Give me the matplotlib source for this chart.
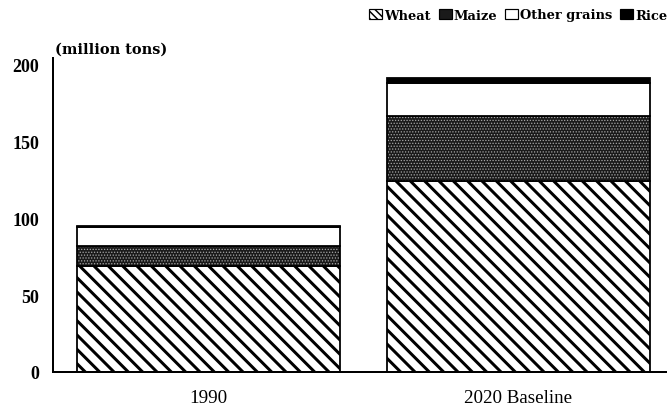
import matplotlib.pyplot as plt
from matplotlib.patches import Patch
import numpy as np

# grain production, million tons
years = ['1990', '2020 Baseline']
wheat = [69, 124]
maize = [13, 42]
other_grains = [12, 22]
rice = [0.6, 3]

DPI = 86
PT = 72 / DPI  # pixels -> points

plt.rcParams['font.family'] = ['Liberation Serif', 'DejaVu Serif']
plt.rcParams['hatch.linewidth'] = 3.0 * PT

fig = plt.figure(figsize=(667 / DPI, 410 / DPI), dpi=DPI)
ax = fig.add_axes([53 / 667, 37 / 410, 614 / 667, 314 / 410])

x = np.arange(len(years))
w = 0.85
wheat = np.array(wheat)
maize = np.array(maize)
other_grains = np.array(other_grains)
rice = np.array(rice)

ax.bar(x, wheat, w, color='white', edgecolor='black', hatch='\\\\', linewidth=1.5)
plt.rcParams['hatch.linewidth'] = 0.8 * PT
ax.bar(x, maize, w, bottom=wheat, color='#1a1a1a', edgecolor='#a8a8a8', hatch='.....', linewidth=0)
ax.bar(x, maize, w, bottom=wheat, fill=False, edgecolor='black', linewidth=1.5)
ax.bar(x, other_grains, w, bottom=wheat + maize, color='white', edgecolor='black', linewidth=1.5)
ax.bar(x, rice, w, bottom=wheat + maize + other_grains, color='black', edgecolor='black', linewidth=1.5)

ax.set_xlim(-0.502, 1.48)
ax.set_ylim(0, 204)
ax.set_yticks([0, 50, 100, 150, 200])
ax.set_xticks(x)
ax.set_xticklabels(years, fontsize=19 * PT)
for lab in ax.get_yticklabels():
    lab.set_fontsize(18 * PT)
    lab.set_fontweight('bold')
ax.tick_params(axis='both', length=0)
ax.tick_params(axis='y', pad=14 * PT)
ax.tick_params(axis='x', pad=17 * PT)
for s in ['top', 'right']:
    ax.spines[s].set_visible(False)
for s in ['left', 'bottom']:
    ax.spines[s].set_linewidth(2 * PT)

fig.text(55 / 667, 1 - 50 / 410, '(million tons)', fontsize=14.5 * PT, fontweight='bold',
         va='center', family='DejaVu Serif')

plt.rcParams['hatch.linewidth'] = 1.5 * PT
handles = [
    Patch(facecolor='white', edgecolor='black', hatch='\\\\\\\\', label='Wheat'),
    Patch(facecolor='#1a1a1a', edgecolor='black', label='Maize'),
    Patch(facecolor='white', edgecolor='black', label='Other grains'),
    Patch(facecolor='black', edgecolor='black', label='Rice'),
]
fig.legend(handles=handles, loc='center right', bbox_to_anchor=(1.0, 1 - 16 / 410), ncol=4,
           frameon=False, handlelength=1.0, handleheight=0.8, handletextpad=0.15, columnspacing=0.6,
           borderaxespad=0, borderpad=0, prop={'size': 13 * PT, 'weight': 'bold', 'family': 'DejaVu Serif'})

fig.savefig('out.png', dpi=DPI)
